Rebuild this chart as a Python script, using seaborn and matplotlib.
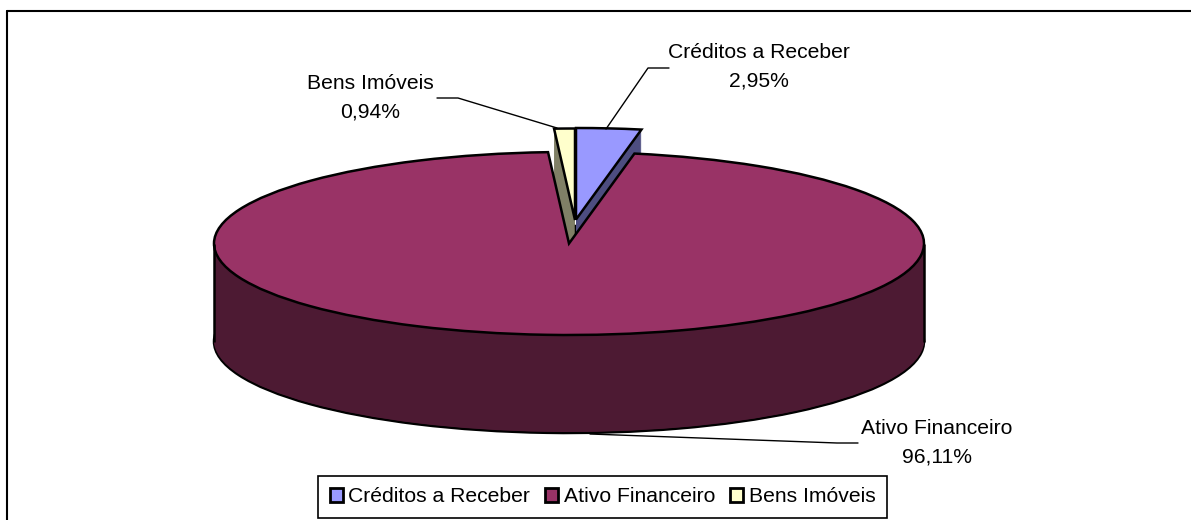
import matplotlib
matplotlib.use("Agg")
import matplotlib.pyplot as plt
import seaborn as sns

categories = ["Créditos a Receber", "Ativo Financeiro", "Bens Imóveis"]
shares = [2.95, 96.11, 0.94]
share_labels = ["2,95%", "96,11%", "0,94%"]
top_colors = ["#9999FF", "#993366", "#FFFFCC"]
side_colors = ["#4D4D80", "#4D1A33", "#808066"]

W, H = 1191, 520
CX, CY, A, B = 569, 243.5, 355, 91.5
DEPTH = 98


def px(x):
    return (x - CX) / A


def py(y):
    return -(y - CY) / B


sns.set_theme(style="white")
plt.rcParams["font.family"] = ["Liberation Sans", "DejaVu Sans"]

fig = plt.figure(figsize=(W / 100, H / 100), dpi=100, facecolor="white")
ax = fig.add_axes([0, 0, 1, 1])
ax.set_axis_off()

centers = {0: (576, 219.5), 1: (CX, CY), 2: (575, 220)}


def layer(idx, drop, color, edge=False):
    wedges, _ = ax.pie(shares, colors=[color] * 3, startangle=90, counterclock=False,
                       radius=1, frame=True, normalize=True,
                       wedgeprops=dict(linewidth=1.8 if edge else 0,
                                       edgecolor="black" if edge else color))
    for i, w in enumerate(wedges):
        if i == idx:
            cx, cy = centers[idx]
            w.set_center((px(cx), py(cy + drop)))
            w.set_joinstyle("miter")
        else:
            w.remove()
    return wedges[idx]


def solid(idx):
    layer(idx, DEPTH, side_colors[idx], edge=True)
    for d in range(DEPTH - 1, 0, -1):
        layer(idx, d, side_colors[idx])
    return layer(idx, 0, top_colors[idx], edge=True)


# main body walls and outline
layer(1, DEPTH, side_colors[1], edge=True)
for d in range(DEPTH - 1, 0, -1):
    layer(1, d, side_colors[1])
ax.plot([px(CX - A)] * 2, [py(CY), py(CY + DEPTH)], color="black", lw=1.8, solid_capstyle="butt")
ax.plot([px(CX + A)] * 2, [py(CY), py(CY + DEPTH)], color="black", lw=1.8, solid_capstyle="butt")

# small slices, then main top
handle_bens = solid(2)
handle_cred = solid(0)
handle_ativo = layer(1, 0, top_colors[1], edge=True)

ax.set_aspect("auto")
ax.set_xlim(px(0), px(W))
ax.set_ylim(py(H), py(0))

# frame: left and top edges only reach the picture
ax.plot([px(7), px(7)], [py(520), py(11)], color="black", lw=1.5, solid_joinstyle="miter")
ax.plot([px(7), px(W)], [py(11), py(11)], color="black", lw=1.5)

# labels and leaders
fs = 15.2
ls = 1.63
ax.text(px(759), py(66.5), f"{categories[0]}\n{share_labels[0]}", ha="center", va="center",
        fontsize=fs, color="black", linespacing=ls)
ax.text(px(370), py(97.5), f"{categories[2]}\n{share_labels[2]}", ha="center", va="center",
        fontsize=fs, color="black", linespacing=ls)
ax.text(px(937), py(443), f"{categories[1]}\n{share_labels[1]}", ha="center", va="center",
        fontsize=fs, color="black", linespacing=ls)
ax.plot([px(606), px(648), px(669)], [py(129), py(68), py(68)], color="black", lw=1)
ax.plot([px(557), px(458), px(437)], [py(128), py(98), py(98)], color="black", lw=1)
ax.plot([px(590), px(837), px(858)], [py(434), py(443), py(443)], color="black", lw=1)

leg = ax.legend([handle_cred, handle_ativo, handle_bens], categories, ncol=3,
                loc="center", bbox_to_anchor=(602.5 / W, 1 - 497 / H), bbox_transform=fig.transFigure,
                frameon=True, fancybox=False, framealpha=1, edgecolor="black", fontsize=fs,
                labelcolor="black",
                handlelength=0.64, handleheight=0.64, handletextpad=0.25, columnspacing=0.7,
                borderpad=0.55, borderaxespad=0)
leg.get_frame().set_linewidth(1.2)
for h in leg.get_patches():
    h.set_linewidth(2)

fig.savefig("out.png", dpi=100, facecolor="white")
